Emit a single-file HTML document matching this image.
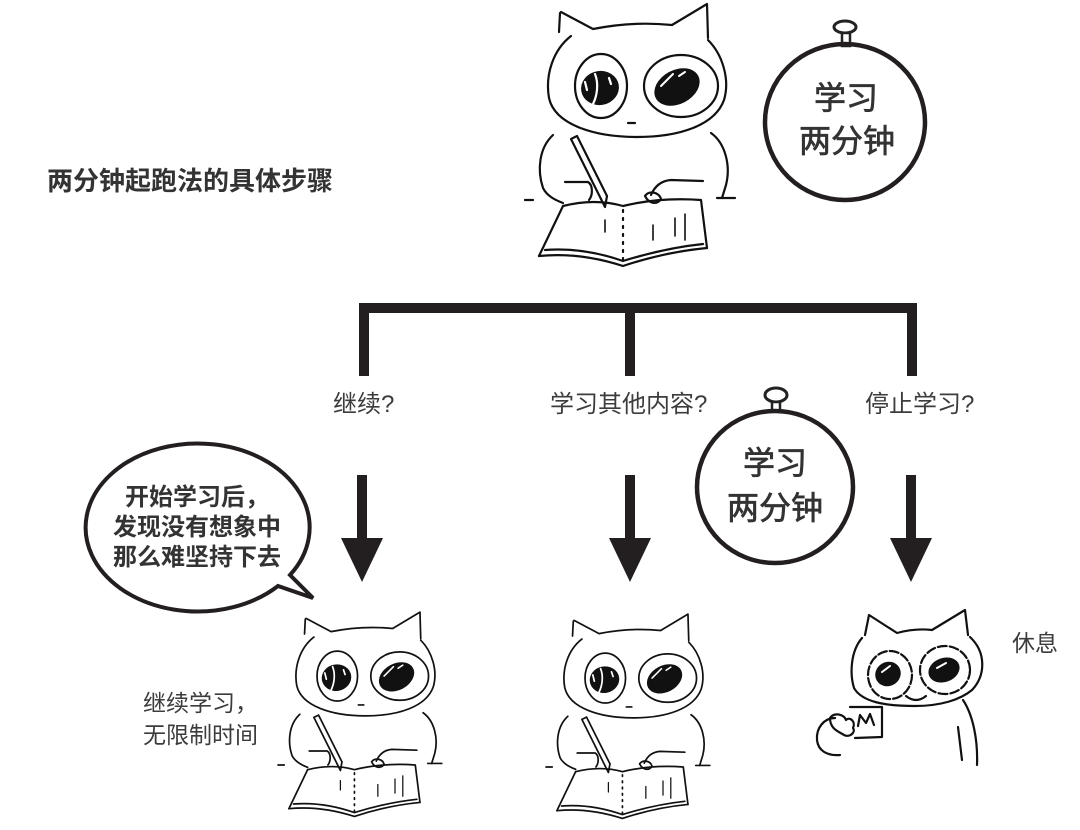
<!DOCTYPE html>
<html><head><meta charset="utf-8">
<style>
html,body{margin:0;padding:0;background:#fff;}
body{width:1080px;height:830px;overflow:hidden;}
svg{display:block;}
text{font-family:"Liberation Sans","Noto Sans CJK SC",sans-serif;}
</style></head>
<body>
<svg width="1080" height="830" viewBox="0 0 1080 830" xmlns="http://www.w3.org/2000/svg">
<defs>
<g id="writer" fill="none" stroke="#111" stroke-width="2.2" stroke-linecap="round" stroke-linejoin="round">
  <path d="M36 12 L68 29 Q108 21 147 25 L182 4 L183 38"/>
  <path d="M35 13 L34 32"/>
  <path d="M46 36 C28 50 20 75 24 98 C30 125 70 137 112 137 C155 137 190 125 199 100 C205 80 198 55 183 40"/>
  <ellipse cx="76" cy="86" rx="26" ry="32"/>
  <ellipse cx="156" cy="86" rx="37" ry="31"/>
  <g fill="#111" stroke="none">
    <ellipse cx="75" cy="88" rx="19" ry="17" transform="rotate(-10 75 88)"/>
    <ellipse cx="152" cy="87" rx="24" ry="17" transform="rotate(-28 152 87)"/>
  </g>
  <path d="M70 74 C74 84 72 96 68 104 M60 82 L62 90 M84 78 L86 84" stroke="#fff" stroke-width="2.2"/>
  <path d="M136 86 L148 74 M154 76 L160 72" stroke="#fff" stroke-width="2"/>
  <path d="M103 123 L110 123"/>
  <path d="M28 135 C14 148 12 170 18 188 C22 196 30 200 38 203"/>
  <path d="M186 133 C200 143 206 165 201 185 L197 198"/>
  <path d="M46 139 L76 199 M52 136 L82 196 M46 139 L52 136"/>
  <path d="M76 199 L80 207 L82 196"/>
  <path d="M40 182 L63 182 C68 185 68 195 64 200"/>
  <path d="M126 195 Q132 181 146 180 L178 181"/>
  <path d="M120 196 C124 190 134 192 136 199 C132 205 124 204 120 196"/>
  <path d="M0 200 L8 200 M192 198 L210 198"/>
  <path d="M38 206 Q70 198 98 206 Q135 197 176 200 L182 248"/>
  <path d="M38 206 L14 256"/>
  <path d="M14 256 Q55 252 98 266 Q140 252 182 248"/>
  <path d="M20 250 Q58 247 98 261 Q140 248 178 244"/>
  <path d="M98 210 L98 262" stroke-dasharray="2 6"/>
  <path d="M80 220 L80 232 M128 225 L128 240 M150 218 L150 236 M160 214 L160 240" stroke-width="1.6"/>
</g>
</defs>

<!-- title -->
<text x="47" y="190" font-size="26" font-weight="bold" fill="#333">两分钟起跑法的具体步骤</text>

<!-- top cat -->
<use href="#writer" transform="translate(525,0)"/>

<!-- top timer -->
<ellipse cx="845" cy="27" rx="11" ry="6" fill="#fff" stroke="#222" stroke-width="3"/>
<rect x="842" y="33" width="8" height="13" fill="#fff" stroke="#222" stroke-width="2.5"/>
<ellipse cx="845" cy="122" rx="80" ry="78" fill="none" stroke="#231f20" stroke-width="4.5"/>
<g font-size="32" text-anchor="middle" fill="#333" stroke="#333" stroke-width="0.7">
<text x="846" y="109">学习</text>
<text x="847" y="152">两分钟</text>
</g>

<!-- bracket -->
<g stroke="#231f20" stroke-width="10" fill="none" stroke-linejoin="miter">
  <path d="M364 376 L364 308 L912 308 L912 376"/>
  <path d="M630 308 L630 376"/>
</g>

<!-- labels -->
<text x="333" y="412" font-size="24" fill="#3c3c3c">继续?</text>
<text x="550" y="412" font-size="24" fill="#3c3c3c">学习其他内容?</text>
<text x="865" y="412" font-size="24" fill="#3c3c3c">停止学习?</text>

<!-- arrows -->
<g fill="#231f20">
  <rect x="357" y="475" width="10" height="65"/>
  <polygon points="341,538 383,538 362,582"/>
  <rect x="625" y="475" width="10" height="65"/>
  <polygon points="609,538 651,538 630,582"/>
  <rect x="906" y="475" width="10" height="65"/>
  <polygon points="890,538 932,538 911,582"/>
</g>

<!-- second timer -->
<ellipse cx="776" cy="395" rx="11" ry="7" fill="#fff" stroke="#222" stroke-width="3"/>
<rect x="772" y="402" width="8" height="11" fill="#fff" stroke="#222" stroke-width="2.5"/>
<ellipse cx="775" cy="487" rx="78" ry="76" fill="#fff" stroke="#231f20" stroke-width="4.5"/>
<g font-size="32" text-anchor="middle" fill="#333" stroke="#333" stroke-width="0.7">
<text x="775" y="474">学习</text>
<text x="775" y="519">两分钟</text>
</g>

<!-- speech bubble -->
<path d="M290 575 L313 598 L278 586 A112 84 0 1 1 290 575 Z" fill="#fff" stroke="#231f20" stroke-width="4" stroke-linejoin="miter"/>
<g font-size="24" font-weight="bold" fill="#333" text-anchor="middle">
  <text x="197" y="505">开始学习后，</text>
  <text x="197" y="535">发现没有想象中</text>
  <text x="197" y="565">那么难坚持下去</text>
</g>

<!-- bottom texts -->
<text x="143" y="711" font-size="23" fill="#3c3c3c">继续学习，</text>
<text x="143" y="743" font-size="23" fill="#3c3c3c">无限制时间</text>
<text x="1012" y="651" font-size="23" fill="#3c3c3c">休息</text>

<!-- bottom cats -->
<use href="#writer" transform="translate(278,609) scale(0.78)"/>
<use href="#writer" transform="translate(546,611) scale(0.78)"/>

<!-- resting cat -->
<g transform="translate(800,590)" fill="none" stroke="#111" stroke-width="2.2" stroke-linecap="round" stroke-linejoin="round">
  <path d="M65 45 L69 25 L97 43 Q115 38 132 40 L165 20 L168 45"/>
  <path d="M62 48 C50 62 50 85 54 98 C62 112 85 116 115 116 C140 116 160 110 172 100 C186 85 186 62 170 47"/>
  <ellipse cx="90" cy="85" rx="22" ry="24" stroke-dasharray="9 3"/>
  <ellipse cx="145" cy="80" rx="25" ry="24" stroke-dasharray="9 3"/>
  <g fill="#111" stroke="none">
    <ellipse cx="88" cy="84" rx="13" ry="12" transform="rotate(-30 88 84)"/>
    <ellipse cx="144" cy="80" rx="16" ry="12" transform="rotate(-20 144 80)"/>
  </g>
  <path d="M82 82 L90 76 M137 78 L146 73" stroke="#fff" stroke-width="2"/>
  <path d="M106 106 Q116 114 126 106"/>
  <path d="M50 117 L82 117 L82 147 L55 148"/>
  <path d="M58 136 L60 125 L66 133 L70 124 L74 135"/>
  <path d="M35 128 C24 128 16 138 17 150 C18 160 26 166 40 165"/>
  <path d="M30 128 C34 122 44 124 46 130 C50 126 56 132 53 138 C56 142 50 148 44 145 C40 142 30 140 30 128"/>
  <path d="M163 110 C173 125 178 150 177 175"/>
  <path d="M158 137 L162 170"/>
</g>
</svg>
</body></html>
